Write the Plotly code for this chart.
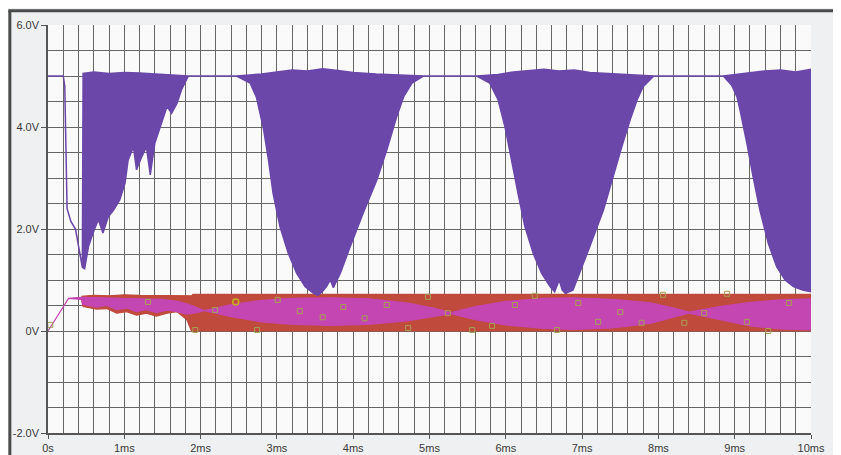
import plotly.graph_objects as go

# ----------------------------
# Data (time in ms, volts)
# ----------------------------
# purple trace: upper and lower envelope of the switching signal
purple_up_t = [0, 0.20, 0.22, 0.25, 0.30, 0.36, 0.42, 0.45, 0.46, 0.60, 0.80, 1.00, 1.20, 1.40,
               1.60, 1.84, 2.47, 2.80, 3.00, 3.20, 3.40, 3.60, 3.80, 4.00, 4.30, 4.60, 4.92,
               5.62, 5.90, 6.10, 6.30, 6.50, 6.70, 6.90, 7.10, 7.30, 7.60, 7.94, 8.85, 9.00,
               9.20, 9.40, 9.60, 9.80, 10.0]
purple_up_v = [5.0, 5.0, 4.8, 2.4, 2.15, 2.0, 1.5, 1.25, 5.05, 5.08, 5.05, 5.07, 5.06, 5.04,
               5.03, 5.0, 5.0, 5.04, 5.08, 5.12, 5.10, 5.14, 5.11, 5.07, 5.04, 5.02, 5.0,
               5.0, 5.03, 5.08, 5.10, 5.13, 5.10, 5.12, 5.07, 5.05, 5.02, 5.0, 5.0, 5.03,
               5.06, 5.10, 5.12, 5.08, 5.13]
purple_lo_t = [0, 0.20, 0.22, 0.25, 0.30, 0.36, 0.42, 0.45, 0.48, 0.53, 0.59, 0.66, 0.72, 0.79,
               0.86, 0.94, 1.01, 1.05, 1.12, 1.16, 1.23, 1.29, 1.34, 1.40, 1.47, 1.56, 1.62,
               1.69, 1.75, 1.84, 2.47, 2.65, 2.73, 2.82, 2.89, 2.95, 3.04, 3.15, 3.26, 3.37,
               3.48, 3.54, 3.60, 3.65, 3.70, 3.74, 3.83, 3.96, 4.13, 4.31, 4.44, 4.57, 4.66,
               4.77, 4.92, 5.62, 5.79, 5.90, 5.99, 6.08, 6.16, 6.25, 6.36, 6.47, 6.58, 6.64,
               6.70, 6.74, 6.78, 6.88, 6.97, 7.10, 7.28, 7.41, 7.52, 7.63, 7.72, 7.80, 7.94,
               8.85, 8.96, 9.03, 9.07, 9.16, 9.24, 9.33, 9.44, 9.55, 9.66, 9.77, 9.90, 10.0]
purple_lo_v = [5.0, 5.0, 4.8, 2.4, 2.15, 2.0, 1.5, 1.25, 1.22, 1.65, 1.92, 2.18, 1.92, 2.24,
               2.37, 2.57, 2.90, 3.35, 3.61, 3.16, 3.42, 3.61, 3.06, 3.68, 4.00, 4.40, 4.27,
               4.46, 4.73, 5.0, 5.0, 4.86, 4.59, 4.00, 3.35, 2.70, 2.05, 1.52, 1.13, 0.87,
               0.74, 0.70, 0.78, 0.87, 1.00, 0.85, 1.13, 1.65, 2.31, 2.96, 3.55, 4.20, 4.59,
               4.86, 5.0, 5.0, 4.86, 4.53, 4.00, 3.35, 2.70, 2.05, 1.52, 1.13, 0.87, 0.77,
               1.00, 0.80, 0.74, 0.80, 1.13, 1.65, 2.37, 3.03, 3.61, 4.14, 4.53, 4.79, 5.0,
               5.0, 4.82, 4.59, 4.33, 3.68, 3.03, 2.37, 1.72, 1.26, 1.00, 0.87, 0.80, 0.77]

# red trace band
red_up_t = [0.44, 0.60, 0.80, 1.00, 1.20, 1.50, 1.88, 1.90, 3.0, 5.0, 7.0, 10.0]
red_up_v = [0.68, 0.70, 0.69, 0.71, 0.70, 0.70, 0.69, 0.72, 0.72, 0.72, 0.72, 0.72]
red_lo_t = [0.44, 0.46, 0.64, 0.77, 0.90, 1.03, 1.16, 1.29, 1.42, 1.56, 1.69, 1.82, 1.88, 10.0]
red_lo_v = [0.60, 0.48, 0.43, 0.44, 0.35, 0.38, 0.31, 0.35, 0.29, 0.35, 0.38, 0.22, 0.0, 0.0]

# magenta trace band (ramp, then lens shapes)
mag_up_t = [0, 0.27, 0.44, 0.80, 1.20, 1.50, 1.70, 1.85, 2.05, 2.40, 2.80, 3.20, 3.70, 4.20,
            4.70, 5.05, 5.28, 5.60, 6.00, 6.50, 6.90, 7.40, 7.90, 8.20, 8.40, 8.80, 9.20,
            9.60, 10.0]
mag_up_v = [0.0, 0.64, 0.66, 0.64, 0.63, 0.62, 0.58, 0.52, 0.40, 0.52, 0.60, 0.64, 0.65, 0.63,
            0.55, 0.45, 0.36, 0.48, 0.58, 0.64, 0.65, 0.62, 0.55, 0.45, 0.37, 0.48, 0.56,
            0.61, 0.63]
mag_lo_t = [0, 0.27, 0.44, 0.46, 0.64, 0.77, 0.90, 1.03, 1.16, 1.29, 1.42, 1.56, 1.69, 1.82,
            1.95, 2.05, 2.40, 2.80, 3.20, 3.70, 4.20, 4.70, 5.05, 5.28, 5.60, 6.00, 6.50,
            6.90, 7.40, 7.90, 8.20, 8.40, 8.80, 9.20, 9.60, 10.0]
mag_lo_v = [0.0, 0.64, 0.62, 0.52, 0.47, 0.50, 0.42, 0.45, 0.38, 0.42, 0.36, 0.41, 0.38, 0.33,
            0.36, 0.40, 0.28, 0.18, 0.13, 0.11, 0.13, 0.20, 0.28, 0.34, 0.22, 0.12, 0.05,
            0.03, 0.06, 0.15, 0.27, 0.35, 0.22, 0.10, 0.04, 0.02]

# trace symbols scattered on the low traces
mark_t = [0.03, 1.31, 1.93, 2.19, 2.74, 3.01, 3.30, 3.60, 3.87, 4.15, 4.44, 4.72, 4.98, 5.24,
          5.56, 5.82, 6.12, 6.38, 6.67, 6.95, 7.21, 7.50, 7.78, 8.06, 8.34, 8.60, 8.90,
          9.16, 9.44, 9.71]
mark_v = [0.12, 0.57, 0.02, 0.41, 0.02, 0.61, 0.39, 0.27, 0.47, 0.25, 0.51, 0.06, 0.67, 0.35,
          0.02, 0.10, 0.51, 0.69, 0.02, 0.55, 0.18, 0.37, 0.16, 0.71, 0.16, 0.35, 0.73,
          0.18, 0.0, 0.55]
circ_t = [2.46]
circ_v = [0.57]

x_ticks = [0, 1, 2, 3, 4, 5, 6, 7, 8, 9, 10]
x_labels = ['0s', '1ms', '2ms', '3ms', '4ms', '5ms', '6ms', '7ms', '8ms', '9ms', '10ms']
y_ticks = [-2, 0, 2, 4, 6]
y_labels = ['-2.0V', '0V', '2.0V', '4.0V', '6.0V']


def band(up_t, up_v, lo_t, lo_v):
    # closed polygon: upper edge forward, lower edge back
    return list(up_t) + list(lo_t)[::-1], list(up_v) + list(lo_v)[::-1]


fig = go.Figure()

rx, ry = band(red_up_t, red_up_v, red_lo_t, red_lo_v)
fig.add_trace(go.Scatter(x=rx, y=ry, mode='lines', fill='toself', fillcolor='#c04a3b',
                         line=dict(color='#c04a3b', width=1.2), hoverinfo='skip'))

mx, my = band(mag_up_t, mag_up_v, mag_lo_t, mag_lo_v)
fig.add_trace(go.Scatter(x=mx, y=my, mode='lines', fill='toself', fillcolor='#c446b2',
                         line=dict(color='#c446b2', width=1.2), hoverinfo='skip'))

px, py = band(purple_up_t, purple_up_v, purple_lo_t, purple_lo_v)
fig.add_trace(go.Scatter(x=px, y=py, mode='lines', fill='toself', fillcolor='#6b47aa',
                         line=dict(color='#6b47aa', width=1.5), hoverinfo='skip'))

fig.add_trace(go.Scatter(x=mark_t, y=mark_v, mode='markers', hoverinfo='skip',
                         marker=dict(symbol='square-open', size=5, color='#a9a052',
                                     line=dict(width=1))))
fig.add_trace(go.Scatter(x=circ_t, y=circ_v, mode='markers', hoverinfo='skip',
                         marker=dict(symbol='circle-open', size=6, color='#c8b020',
                                     line=dict(width=1.5))))

grid = '#666666'
fig.update_xaxes(range=[0, 10], tickvals=x_ticks, ticktext=x_labels, automargin=False,
                 showgrid=True, gridcolor=grid, gridwidth=1,
                 minor=dict(dtick=0.2, showgrid=True, gridcolor=grid, gridwidth=1),
                 showline=True, linecolor='#555', linewidth=1.5, mirror=False,
                 ticks='outside', ticklen=4, tickcolor='#555', zeroline=False,
                 tickfont=dict(family='Liberation Sans, Arial', size=11, color='#3a3a3a'))
fig.update_yaxes(range=[-2, 6], tickvals=y_ticks, ticktext=y_labels, automargin=False,
                 showgrid=True, gridcolor=grid, gridwidth=1,
                 minor=dict(dtick=0.5, showgrid=True, gridcolor=grid, gridwidth=1),
                 showline=True, linecolor='#555', linewidth=1.5,
                 ticks='outside', ticklen=5, tickcolor='#555', zeroline=False,
                 tickfont=dict(family='Liberation Sans, Arial', size=11, color='#3a3a3a'))

# the page body has an 8px margin, so the figure is sized to fit inside the window
fig.update_layout(
    width=833, height=447,
    margin=dict(l=40, r=30, t=17, b=22),
    paper_bgcolor='#eef0f1',
    plot_bgcolor='#fafafa',
    showlegend=False,
    hovermode=False,
    shapes=[
        # dark frame of the scanned screen (top and left edges)
        dict(type='line', xref='paper', yref='paper', x0=-0.052, x1=1.05, y0=1.035, y1=1.035,
             line=dict(color='#4a4a4a', width=3), layer='below'),
        dict(type='line', xref='paper', yref='paper', x0=-0.050, x1=-0.050, y0=-0.06, y1=1.035,
             line=dict(color='#4a4a4a', width=3), layer='below'),
    ],
)

fig.write_html("out.html")
